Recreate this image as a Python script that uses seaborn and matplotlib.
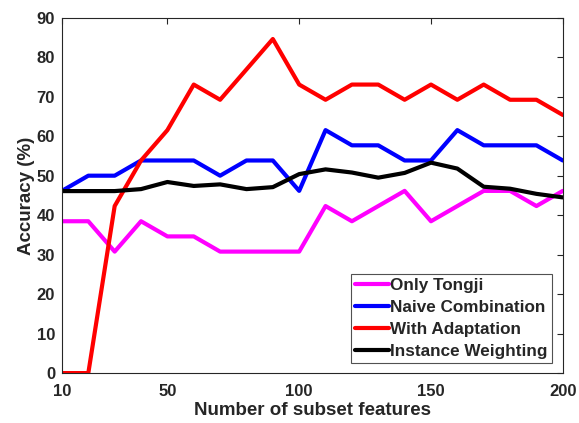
import matplotlib
matplotlib.use("Agg")
import matplotlib.pyplot as plt
import numpy as np
import pandas as pd
import seaborn as sns

# --- data ---
features = list(range(10, 201, 10))

only_tongji = [38.46, 38.46, 30.77, 38.46, 34.62, 34.62, 30.77, 30.77, 30.77, 30.77,
               42.31, 38.46, 42.31, 46.15, 38.46, 42.31, 46.15, 46.15, 42.31, 46.15]
naive_combination = [46.15, 50.0, 50.0, 53.85, 53.85, 53.85, 50.0, 53.85, 53.85, 46.15,
                     61.54, 57.69, 57.69, 53.85, 53.85, 61.54, 57.69, 57.69, 57.69, 53.85]
with_adaptation = [0.0, 0.0, 42.31, 53.85, 61.54, 73.08, 69.23, 76.92, 84.62, 73.08,
                   69.23, 73.08, 73.08, 69.23, 73.08, 69.23, 73.08, 69.23, 69.23, 65.38]
instance_weighting = [46.1, 46.1, 46.1, 46.6, 48.4, 47.4, 47.8, 46.6, 47.1, 50.4,
                      51.6, 50.8, 49.5, 50.7, 53.3, 51.8, 47.2, 46.7, 45.4, 44.5]

series_names = ["Only Tongji", "Naive Combination", "With Adaptation", "Instance Weighting"]
palette = ["#ff00ff", "#0000ff", "#ff0000", "#000000"]

df = pd.DataFrame({
    "features": features * 4,
    "accuracy": only_tongji + naive_combination + with_adaptation + instance_weighting,
    "method": np.repeat(series_names, len(features)),
})

sns.set_style("white")
plt.rcParams["font.family"] = ["Liberation Sans", "DejaVu Sans"]
plt.rcParams["font.weight"] = "bold"

fig, ax = plt.subplots(figsize=(5.79, 4.23), dpi=100)

sns.lineplot(
    data=df,
    x="features",
    y="accuracy",
    hue="method",
    hue_order=series_names,
    palette=palette,
    linewidth=3,
    ax=ax,
)

ax.set_xlim(10, 200)
ax.set_ylim(0, 90)
ax.set_xticks([10, 50, 100, 150, 200])
ax.set_yticks(range(0, 91, 10))
ax.tick_params(direction="in", top=True, right=True, length=4, width=0.8,
               labelsize=12, colors="#262626", labelcolor="#262626")
ax.tick_params(axis="x", pad=8)
ax.tick_params(axis="y", pad=5)
for lbl in ax.get_xticklabels() + ax.get_yticklabels():
    lbl.set_fontweight("bold")
for sp in ax.spines.values():
    sp.set_color("#262626")
    sp.set_linewidth(0.8)

ax.set_xlabel("Number of subset features", fontsize=13.5, fontweight="bold",
              color="#262626", labelpad=2)
ax.set_ylabel("Accuracy (%)", fontsize=13.5, fontweight="bold",
              color="#262626", labelpad=1)

leg = ax.legend(
    loc="lower right",
    bbox_to_anchor=(0.978, 0.028),
    frameon=True,
    fancybox=False,
    edgecolor="#262626",
    fontsize=12.3,
    handlelength=2.0,
    handletextpad=0.05,
    borderpad=0.25,
    labelspacing=0.4,
    borderaxespad=0,
)
leg.get_frame().set_linewidth(0.8)
for t in leg.get_texts():
    t.set_fontweight("bold")
for l in leg.get_lines():
    l.set_linewidth(3)

fig.subplots_adjust(left=0.107, right=0.972, top=0.958, bottom=0.118)
fig.savefig("out.png", dpi=100)
